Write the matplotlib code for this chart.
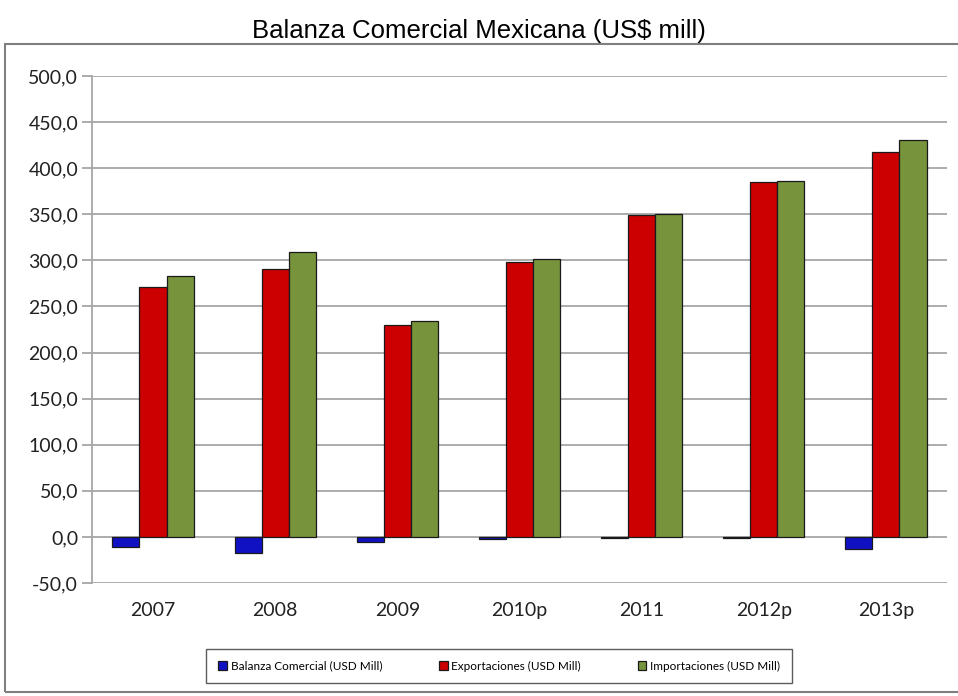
import numpy as np
import matplotlib
matplotlib.use("Agg")
from matplotlib import pyplot as plt
from matplotlib.patches import Rectangle
from matplotlib.ticker import FuncFormatter, MultipleLocator

years = ["2007", "2008", "2009", "2010p", "2011", "2012p", "2013p"]
balanza = [-10.8, -17.8, -5.4, -2.8, -1.5, -1.5, -12.8]
exportaciones = [271.4, 290.9, 229.8, 298.1, 349.2, 385.3, 418.0]
importaciones = [282.6, 308.7, 234.1, 301.7, 350.6, 385.6, 430.2]

series = [
    ("Balanza Comercial (USD Mill)", balanza, "#1111C4"),
    ("Exportaciones (USD Mill)", exportaciones, "#CC0000"),
    ("Importaciones (USD Mill)", importaciones, "#77933C"),
]

fig = plt.figure(figsize=(9.58, 6.96), dpi=100)
ax = fig.add_axes([0.096, 0.1624, 0.8925, 0.7284])

# outer chart frame
fig.patches.append(Rectangle((5 / 958, 4 / 696), 960 / 958, 648 / 696,
                             transform=fig.transFigure, fill=False,
                             edgecolor="#7f7f7f", linewidth=1.5))

x = np.arange(len(years))
w = 0.222
for i, (name, vals, col) in enumerate(series):
    ax.bar(x + (i - 1) * w, vals, w, color=col, edgecolor="#1a1a1a",
           linewidth=0.9, label=name, zorder=3)

ax.set_xlim(-0.5, len(years) - 0.5)
ax.set_ylim(-50, 500)
ax.yaxis.set_major_locator(MultipleLocator(50))
ax.yaxis.set_major_formatter(FuncFormatter(lambda v, p: f"{v:.1f}".replace(".", ",")))
ax.grid(axis="y", color="#a6a6a6", linewidth=1.3, zorder=0)
ax.set_axisbelow(True)

for s in ["top", "right", "bottom"]:
    ax.spines[s].set_visible(False)
ax.spines["left"].set_color("#a6a6a6")
ax.spines["left"].set_linewidth(1.3)

ax.set_xticks(x)
ax.set_xticklabels(years)
ax.tick_params(axis="x", length=0, pad=14, labelsize=14, labelcolor="#222222")
ax.tick_params(axis="y", length=7, width=1.3, color="#a6a6a6", pad=3,
               labelsize=14, labelcolor="#222222")
for lab in ax.get_xticklabels() + ax.get_yticklabels():
    lab.set_family("Lato")

fig.text(0.5, 0.955, "Balanza Comercial Mexicana (US$ mill)", ha="center",
         va="center", fontsize=18.5, family="Liberation Sans")

leg = fig.legend(loc="center", bbox_to_anchor=(0.521, 0.043),
                 ncol=3, frameon=True, fancybox=False,
                 handlelength=0.75, handleheight=0.75, handletextpad=0.3,
                 columnspacing=4.8, borderpad=1.0, borderaxespad=0,
                 prop={"family": "Lato", "size": 8.5})
leg.get_frame().set_edgecolor("#333333")
leg.get_frame().set_linewidth(1.0)

plt.savefig("out.png", dpi=100)
